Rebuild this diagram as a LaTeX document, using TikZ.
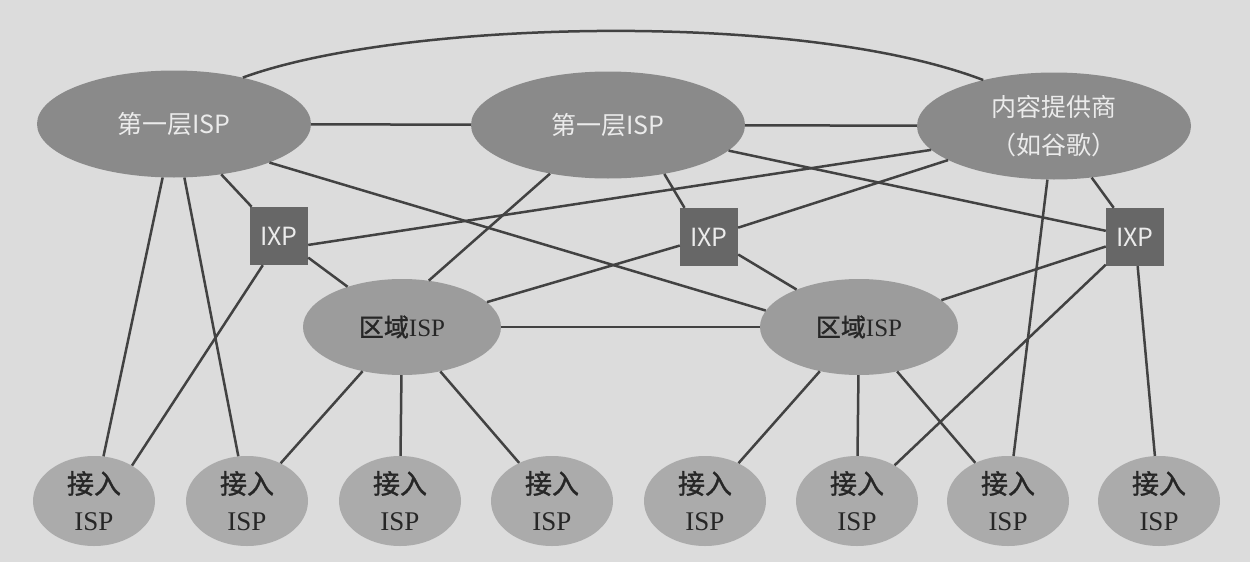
\documentclass[tikz,border=0pt]{standalone}
\usepackage{fontspec}
\newfontfamily\cjk{Noto Sans CJK SC}
\newfontfamily\cjkb{Noto Sans CJK SC}[FakeBold=1.2]
\newfontfamily\serifl{Liberation Serif}
\usetikzlibrary{shapes.geometric}
\definecolor{bgc}{HTML}{DCDCDC}
\definecolor{tierc}{HTML}{8A8A8A}
\definecolor{ixpc}{HTML}{676767}
\definecolor{regc}{HTML}{9C9C9C}
\definecolor{accc}{HTML}{ABABAB}
\definecolor{txtc}{HTML}{262626}
\definecolor{linec}{HTML}{424242}
\begin{document}
\begin{tikzpicture}[x=1pt,y=-1pt,
  tier/.style={ellipse, fill=tierc, minimum width=274pt, minimum height=107pt, inner sep=0pt, text=white!92!black, font=\cjk\fontsize{25}{38}\selectfont, align=center},
  ixpbox/.style={rectangle, fill=ixpc, minimum size=58pt, inner sep=0pt, text=white!92!black, font=\cjk\fontsize{25}{30}\selectfont},
  regn/.style={ellipse, fill=regc, minimum width=198pt, minimum height=96pt, inner sep=0pt, text=txtc, font=\fontsize{25}{30}\selectfont},
  accn/.style={ellipse, fill=accc, minimum width=122pt, minimum height=90pt, inner sep=0pt},
  acctext/.style={text=txtc, font=\fontsize{27}{37}\selectfont, align=center, inner sep=0pt},
  link/.style={draw=linec, line width=2.5pt}
]
\fill[bgc] (0,0) rectangle (1250,562);
\useasboundingbox (0,0) rectangle (1250,562);

% top tier
\node[tier] (t1l) at (174,124) {第一层ISP};
\node[tier] (t1m) at (608,125) {第一层ISP};
\node[tier] (cp) at (1054,126) {内容提供商\\（如谷歌）};

% IXPs
\node[ixpbox] (ixl) at (279,236) {IXP};
\node[ixpbox] (ixm) at (709,237) {IXP};
\node[ixpbox] (ixr) at (1135,237) {IXP};

% regional
\node[regn] (rl) at (402,327) {{\cjkb 区域}{\serifl ISP}};
\node[regn] (rr) at (859,327) {{\cjkb 区域}{\serifl ISP}};

% access
\foreach \i/\x in {1/94,2/247,3/400,4/552,5/705,6/857,7/1008,8/1159}{
  \node[accn, label={[acctext]center:{{\cjkb 接入}\\{\serifl ISP}}}] (a\i) at (\x,501) {};
}

% links
\draw[link] (t1l) -- (t1m);
\draw[link] (t1m) -- (cp);
\draw[link] (t1l.34) .. controls (400,20) and (800,10) .. (cp.147);
\draw[link] (t1l) -- (ixl);
\draw[link] (t1l) -- (a1);
\draw[link] (t1l) -- (a2);
\draw[link] (t1l.-22) -- (rr.170);
\draw[link] (t1m.220) -- (rl.60);
\draw[link] (t1m.-41) -- (ixm.130);
\draw[link] (t1m) -- (ixr);
\draw[link] (cp.191) -- (ixl.-17);
\draw[link] (cp) -- (ixm);
\draw[link] (cp) -- (ixr);
\draw[link] (cp) -- (a7);
\draw[link] (ixr) -- (a8);
\draw[link] (ixr) -- (a6);
\draw[link] (ixr) -- (rr);
\draw[link] (ixl) -- (rl);
\draw[link] (ixl.241) -- (a1.43);
\draw[link] (ixm) -- (rl);
\draw[link] (ixm) -- (rr);
\draw[link] (rl) -- (rr);
\draw[link] (rl) -- (a2);
\draw[link] (rl) -- (a3);
\draw[link] (rl) -- (a4);
\draw[link] (rr) -- (a5);
\draw[link] (rr) -- (a6);
\draw[link] (rr) -- (a7);
\end{tikzpicture}
\end{document}
